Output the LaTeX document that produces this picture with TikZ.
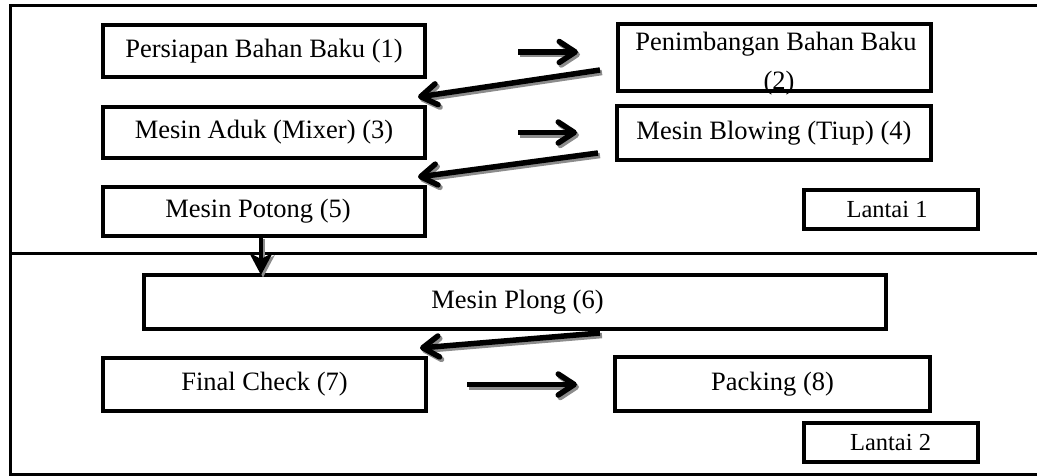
\documentclass[tikz,border=0pt]{standalone}
\usepackage{fontspec}
\setmainfont{Liberation Serif}
\usetikzlibrary{arrows.meta,calc}
\begin{document}
\begin{tikzpicture}[x=1pt,y=-1pt,
  box/.style={draw, line width=4pt, inner sep=0pt, outer sep=0pt, font=\fontsize{26.5}{39}\selectfont},
  tag/.style={draw, line width=3.5pt, inner sep=0pt, outer sep=0pt},
  txt/.style={inner sep=0pt, outer sep=0pt, font=\fontsize{26.5}{39}\selectfont},
  tagtxt/.style={inner sep=0pt, outer sep=0pt, font=\fontsize{24.5}{29}\selectfont},
  flow/.style={line width=5.5pt, -{Straight Barb[round,length=16pt,width=21pt]}},
  drop/.style={line width=4pt, -{Stealth[length=22pt,width=23pt,inset=6pt]}}
]
\useasboundingbox (0,0) rectangle (1037,475);
% frame
\draw[line width=3pt] (1045,5) -- (10,5) -- (10,474.5) -- (1045,474.5);
\draw[line width=3pt] (10,253) -- (1045,253);
% boxes
\node[box, minimum width=322pt, minimum height=52pt] (b1) at (264,51) {Persiapan Bahan Baku (1)};
\node[box, minimum width=313pt, minimum height=67pt] (b2) at (774.5,57.5) {};
\node[txt, anchor=base] (b2a) at (776,50) {Penimbangan Bahan Baku};
\node[txt, anchor=base] (b2b) at (779,89) {(2)};
\node[box, minimum width=322pt, minimum height=51pt] (b3) at (264,132.5) {Mesin Aduk (Mixer) (3)};
\node[box, minimum width=314pt, minimum height=54pt] (b4) at (774,133) {Mesin Blowing (Tiup) (4)};
\node[box, minimum width=322pt, minimum height=49pt] (b5) at (264,211.5) {};
\node[txt] (b5t) at (258,211.5) {Mesin Potong (5)};
\node[tag, minimum width=174pt, minimum height=39pt] (L1) at (891,209.5) {};
\node[tagtxt] (L1t) at (887,209.5) {Lantai 1};
\node[box, minimum width=742pt, minimum height=54pt] (b6) at (515,302) {};
\node[txt] (b6t) at (517.5,302) {Mesin Plong (6)};
\node[box, minimum width=323pt, minimum height=53pt] (b7) at (264.5,384.5) {Final Check (7)};
\node[box, minimum width=315pt, minimum height=54pt] (b8) at (772.5,384) {Packing (8)};
\node[tag, minimum width=174pt, minimum height=39pt] (L2) at (891,442.5) {};
\node[tagtxt] (L2t) at (890.5,442.5) {Lantai 2};
% connector end points
\coordinate (d1) at ($(b5.south)+(-3,0)$);
\coordinate (d2) at (d1 |- b6.north);
% connectors: grey shadow pass, then black pass
\foreach \pass/\sx/\sy/\col in {0/2/-2.5/black!45, 1/0/0/black} {
\begin{scope}[transform canvas={shift={(\sx pt,\sy pt)}}, every path/.append style={draw=\col}]
\draw[flow, shorten <=93pt, shorten >=40pt] ($(b1.east)+(0,1)$) -- ($(b1.east -| b2.west)+(0,1)$);
\draw[flow] ($(b2.west)+(-18,12.5)$) -- ($(b3.north east)+(-7,-10)$);
\draw[flow, shorten <=93pt, shorten >=40pt] (b3.east) -- (b3.east -| b4.west);
\draw[flow] ($(b4.west)+(-19,20)$) -- ($(b5.north east)+(-7,-10)$);
\draw[drop] (d1) -- (d2);
\draw[flow] ($(b6.south)+(85,4)$) -- ($(b7.north east)+(-6,-10)$);
\draw[flow, shorten <=41pt, shorten >=38pt] (b7.east) -- (b7.east -| b8.west);
\end{scope}
}
\end{tikzpicture}
\end{document}
